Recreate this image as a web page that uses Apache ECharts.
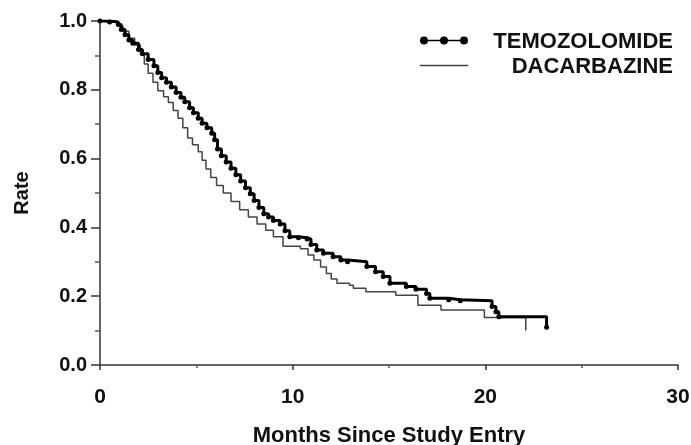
<!DOCTYPE html>
<html>
<head>
<meta charset="utf-8">
<script src="https://cdn.jsdelivr.net/npm/echarts@6/dist/echarts.min.js"></script>
<style>
  html, body { margin: 0; padding: 0; background: #fff; }
  #chart { width: 691px; height: 445px; }
</style>
</head>
<body>
<div id="chart"></div>
<script>
// Kaplan-Meier survival estimates: [months, survival rate] after each event
const temozolomide = [
  [0, 1.0], [0.5, 0.997], [0.95, 0.99], [1.1, 0.975], [1.3, 0.96], [1.5, 0.945],
  [1.7, 0.935], [2.0, 0.917], [2.2, 0.905], [2.5, 0.888], [2.8, 0.87], [3.0, 0.85],
  [3.2, 0.835], [3.45, 0.822], [3.7, 0.808], [3.95, 0.792], [4.2, 0.778], [4.4, 0.765],
  [4.65, 0.748], [4.85, 0.733], [5.1, 0.717], [5.3, 0.703], [5.55, 0.69], [5.8, 0.674],
  [5.95, 0.655], [6.1, 0.628], [6.3, 0.608], [6.55, 0.59], [6.8, 0.572], [7.05, 0.553],
  [7.3, 0.535], [7.55, 0.515], [7.8, 0.498], [8.0, 0.478], [8.25, 0.458], [8.5, 0.44],
  [8.75, 0.43], [9.0, 0.42], [9.35, 0.41], [9.6, 0.39], [9.85, 0.373], [10.3, 0.37],
  [10.75, 0.366], [10.95, 0.35], [11.25, 0.334], [11.6, 0.325], [12.1, 0.315],
  [12.5, 0.305], [12.85, 0.30], [13.85, 0.286], [14.3, 0.271], [14.7, 0.257],
  [15.05, 0.238], [15.9, 0.228], [16.4, 0.22], [16.95, 0.208], [17.12, 0.194],
  [18.1, 0.19], [18.7, 0.187], [20.35, 0.17], [20.55, 0.155], [20.7, 0.14],
  [23.18, 0.11]
];

const dacarbazine = [
  [0, 1.0], [0.5, 0.995], [0.95, 0.985], [1.2, 0.97], [1.5, 0.95], [1.8, 0.93],
  [2.1, 0.905], [2.3, 0.875], [2.5, 0.848], [2.75, 0.822], [3.0, 0.797], [3.3, 0.78],
  [3.55, 0.763], [3.8, 0.74], [4.05, 0.717], [4.3, 0.69], [4.55, 0.66], [4.8, 0.64],
  [5.1, 0.62], [5.3, 0.595], [5.5, 0.57], [5.75, 0.545], [6.05, 0.522], [6.4, 0.5],
  [6.8, 0.475], [7.25, 0.451], [7.7, 0.43], [8.15, 0.41], [8.6, 0.392], [9.0, 0.373],
  [9.5, 0.345], [10.4, 0.338], [10.8, 0.32], [11.1, 0.305], [11.45, 0.285],
  [11.75, 0.266], [12.0, 0.25], [12.3, 0.238], [12.95, 0.232], [13.15, 0.223],
  [13.8, 0.213], [15.35, 0.203], [16.5, 0.174], [17.7, 0.16], [19.95, 0.138],
  [22.1, 0.10]
];

const seriesNames = ['TEMOZOLOMIDE', 'DACARBAZINE'];
const xTicks = { min: 0, max: 30, step: 10 };
const yTicks = { min: 0, max: 1, step: 0.2 };

const FONT = '"Liberation Sans", Arial, sans-serif';
const INK = '#111';

// three filled dots joined by a bar: legend key for the marked curve
const dottedKey = 'path://M4,4.2H44V5.8H4Z' +
  'M0,5a4,4 0 1,1 8,0a4,4 0 1,1 -8,0Z' +
  'M20,5a4,4 0 1,1 8,0a4,4 0 1,1 -8,0Z' +
  'M40,5a4,4 0 1,1 8,0a4,4 0 1,1 -8,0Z';
// plain thin bar: legend key for the unmarked curve
const plainKey = 'path://M0,0H48V1.6H0Z';

const chart = echarts.init(document.getElementById('chart'), null, { renderer: 'canvas' });

chart.setOption({
  backgroundColor: '#fff',
  animation: false,
  grid: {
    left: 100, right: 13, top: 21, bottom: 80,
    containLabel: false,
    outerBoundsMode: 'none'
  },
  legend: {
    orient: 'vertical',
    right: 13,
    top: 23,
    itemWidth: 48,
    itemHeight: 8,
    itemGap: 0,
    symbolKeepAspect: true,
    data: [
      { name: seriesNames[0], icon: dottedKey, itemStyle: { color: '#000', borderWidth: 0 } },
      { name: seriesNames[1], icon: plainKey, itemStyle: { color: '#444', borderWidth: 0 } }
    ],
    formatter: name => '{t|' + name + '}',
    textStyle: {
      rich: {
        t: {
          width: 200,
          align: 'right',
          fontFamily: FONT,
          fontSize: 22,
          fontWeight: 'bold',
          color: INK,
          lineHeight: 22,
          padding: [3, 0, 0, 0]
        }
      }
    }
  },
  xAxis: {
    type: 'value',
    min: xTicks.min,
    max: xTicks.max,
    interval: xTicks.step,
    name: 'Months Since Study Entry',
    nameLocation: 'middle',
    nameGap: 60,
    nameTextStyle: { fontFamily: FONT, fontSize: 22, fontWeight: 'bold', color: INK },
    axisLine: { show: true, lineStyle: { color: '#333', width: 1.5 } },
    axisTick: { show: true, length: 5, lineStyle: { color: '#333', width: 1.5 } },
    minorTick: { show: true, splitNumber: 2, length: 3, lineStyle: { color: '#555', width: 1.5 } },
    axisLabel: { margin: 22, fontFamily: FONT, fontSize: 21, fontWeight: 'bold', color: INK },
    splitLine: { show: false }
  },
  yAxis: {
    type: 'value',
    min: yTicks.min,
    max: yTicks.max,
    interval: yTicks.step,
    name: 'Rate',
    nameLocation: 'middle',
    nameGap: 68,
    nameRotate: 90,
    nameTextStyle: { fontFamily: FONT, fontSize: 20, fontWeight: 'bold', color: INK },
    axisLine: { show: true, lineStyle: { color: '#333', width: 1.5 } },
    axisTick: { show: true, length: 9, lineStyle: { color: '#333', width: 1.5 } },
    minorTick: { show: true, splitNumber: 2, length: 5, lineStyle: { color: '#555', width: 1.5 } },
    axisLabel: {
      margin: 13, fontFamily: FONT, fontSize: 20, fontWeight: 'bold', color: INK,
      formatter: v => v.toFixed(1)
    },
    splitLine: { show: false }
  },
  series: [
    {
      name: seriesNames[0],
      type: 'line',
      step: 'end',
      data: temozolomide,
      symbol: 'circle',
      symbolSize: 5,
      showSymbol: true,
      showAllSymbol: true,
      itemStyle: { color: '#000' },
      lineStyle: { color: '#000', width: 3 },
      z: 3
    },
    {
      name: seriesNames[1],
      type: 'line',
      step: 'end',
      data: dacarbazine,
      symbol: 'none',
      itemStyle: { color: '#444' },
      lineStyle: { color: '#444', width: 1.5 },
      z: 2
    }
  ]
});
</script>
</body>
</html>
